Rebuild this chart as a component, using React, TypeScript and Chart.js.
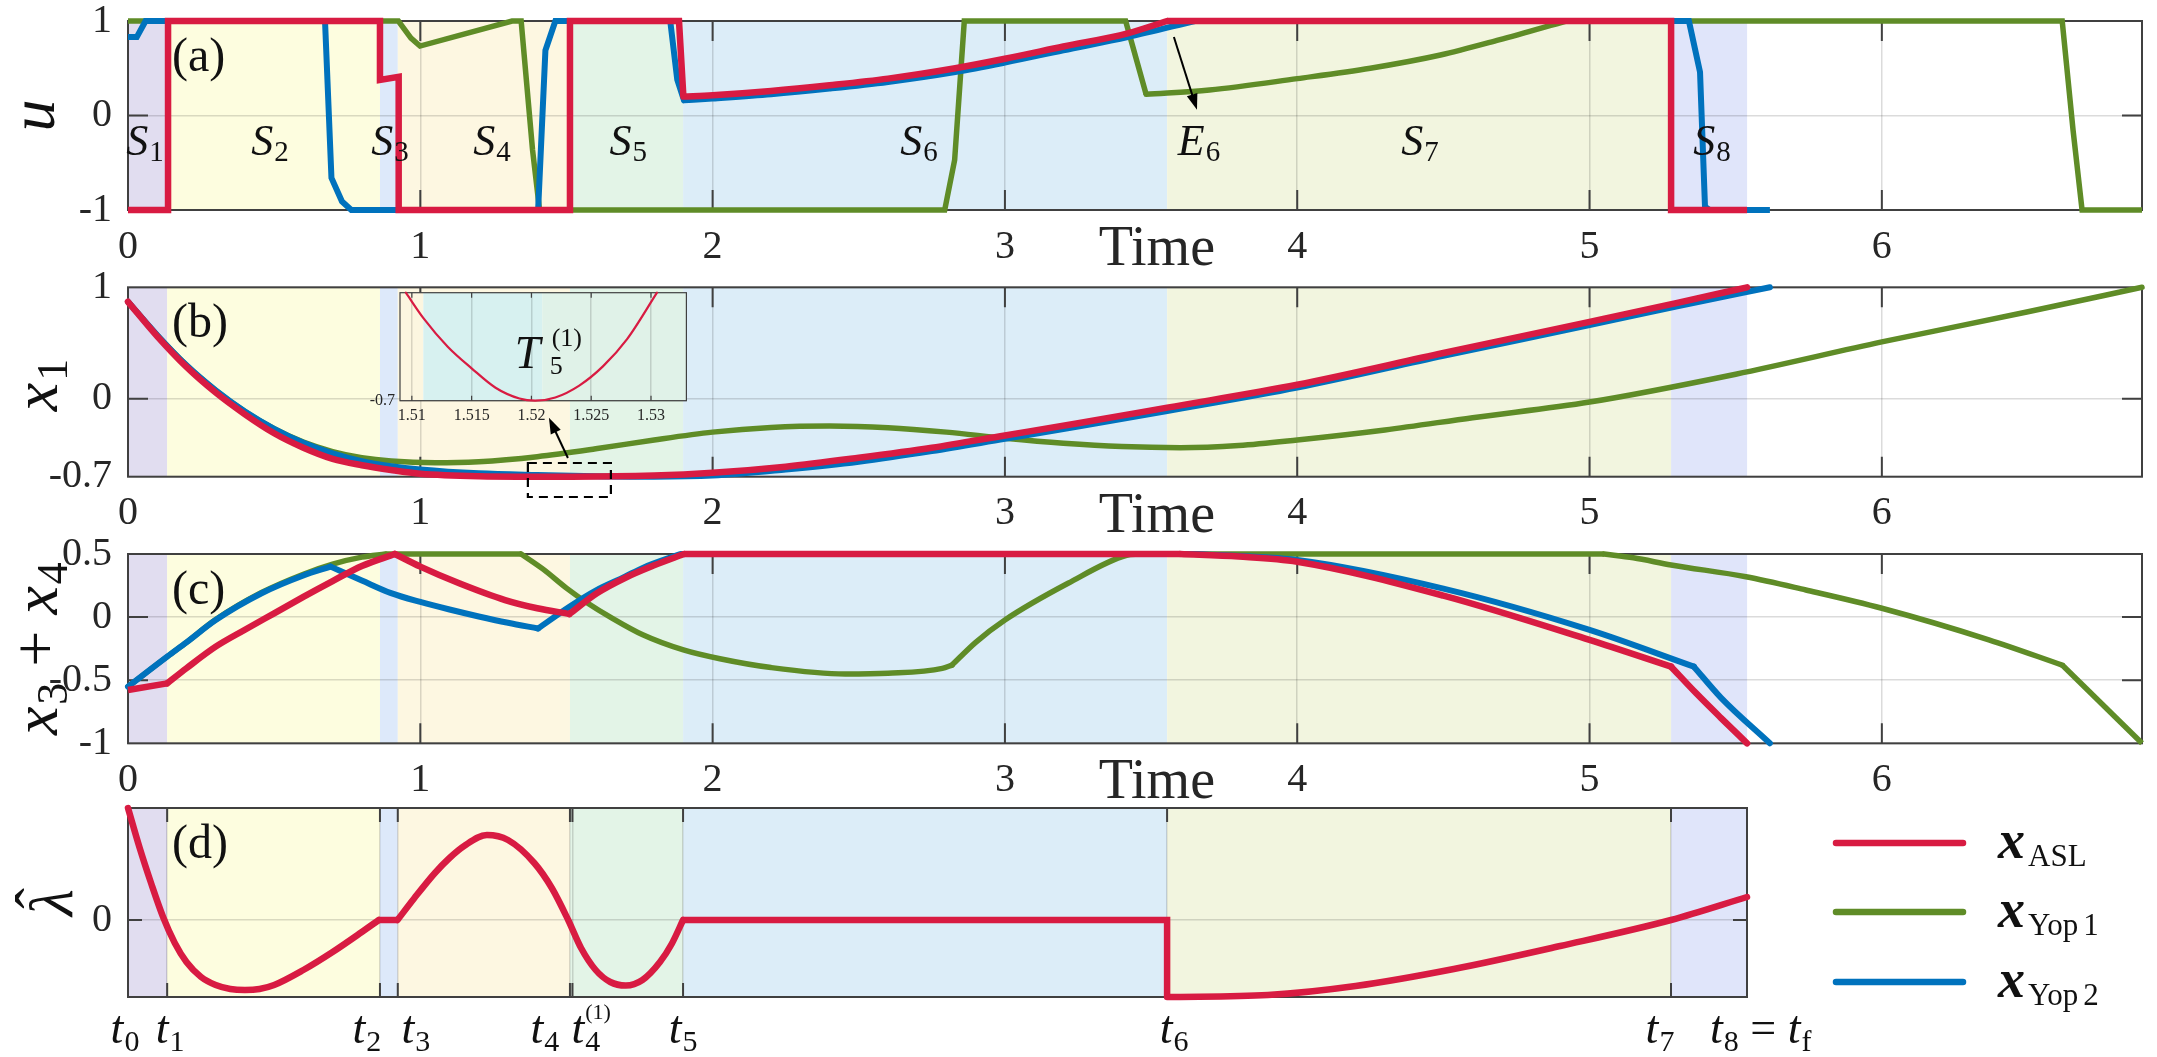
import { useEffect, useRef } from 'react';
import { Chart, registerables } from 'chart.js';

Chart.register(...registerables);

type Pt = [number, number];
type Range = [number, number];

const W = 2157;
const H = 1057;
const SERIF = "'Liberation Serif', 'Times New Roman', Times, serif";
const fnt = (size: number, style = '') => `${style} ${size}px ${SERIF}`.trim();

const RED = '#d81b42';
const GREEN = '#5f8c27';
const BLUE = '#0072bd';
const AXIS = '#404040';
const GRID = 'rgba(0,0,0,0.14)';
const TXT = '#262626';

// ---------------- stages ----------------
const stageBounds = [0, 0.134, 0.862, 0.923, 1.512, 1.899, 3.555, 5.279, 5.539];
const stageColors = ['#e1ddf0', '#fdfddf', '#dde9fa', '#fdf7e1', '#e3f4e7', '#dcedf8', '#f2f5df', '#e0e5fa'];
const stageLetters = ['S', 'S', 'S', 'S', 'S', 'S', 'E', 'S', 'S'];
const stageSubs = ['1', '2', '3', '4', '5', '6', '6', '7', '8'];
const stageLabelTimes = [0.058, 0.486, 0.896, 1.245, 1.711, 2.706, 3.664, 4.42, 5.419];

// ---------------- ticks ----------------
const timeTicks = [0, 1, 2, 3, 4, 5, 6];
const uTicks = [-1, 0, 1];
const x1Ticks = [-0.7, 0, 1];
const x34Ticks = [-1, -0.5, 0, 0.5];
const lamTicks = [0];
const tTicks = [0, 0.134, 0.862, 0.923, 1.512, 1.5205, 1.899, 3.555, 5.279, 5.539];
const tTickSubs = ['0', '1', '2', '3', '4', '4', '5', '6', '7', '8'];
const insetTicks = [1.51, 1.515, 1.52, 1.525, 1.53];
const insetYTicks = [-0.7];

// ---------------- (a) control u ----------------
const uASL: Pt[] = [[0, -1], [0.137, -1], [0.137, 1], [0.862, 1], [0.862, 0.376], [0.926, 0.41], [0.926, -1], [1.512, -1], [1.512, 1], [1.885, 1], [1.9, 0.2], [2.0, 0.215], [2.2, 0.26], [2.4, 0.32], [2.6, 0.39], [2.83, 0.5], [3.0, 0.6], [3.2, 0.73], [3.42, 0.87], [3.555, 1], [5.279, 1], [5.279, -1], [5.539, -1]];
const uASLCurves: Range[] = [[10, 19]];
const uYop1: Pt[] = [[0, 1], [0.925, 1], [0.968, 0.82], [0.999, 0.735], [1.314, 1], [1.345, 1], [1.384, -0.365], [1.408, -1], [2.794, -1], [2.828, -0.47], [2.861, 1], [3.413, 1], [3.483, 0.224], [3.7, 0.27], [4.0, 0.39], [4.25, 0.5], [4.49, 0.64], [4.69, 0.8], [4.92, 1], [6.617, 1], [6.654, -0.15], [6.685, -1], [6.89, -1]];
const uYop1Curves: Range[] = [[12, 18]];
const uYop2: Pt[] = [[0, 0.83], [0.03, 0.83], [0.06, 1], [0.674, 1], [0.696, -0.66], [0.732, -0.91], [0.764, -1], [1.403, -1], [1.428, 0.69], [1.462, 1], [1.855, 1], [1.879, 0.38], [1.902, 0.16], [2.0, 0.18], [2.2, 0.225], [2.4, 0.285], [2.6, 0.355], [2.83, 0.46], [3.0, 0.56], [3.2, 0.69], [3.42, 0.83], [3.65, 1], [5.34, 1], [5.378, 0.46], [5.395, -0.965], [5.41, -1], [5.617, -1]];
const uYop2Curves: Range[] = [[12, 21]];

// ---------------- (b) state x1 ----------------
const x1ASL: Pt[] = [[0, 0.87], [0.1, 0.56], [0.2, 0.285], [0.3, 0.055], [0.4, -0.14], [0.5, -0.31], [0.6, -0.44], [0.7, -0.54], [0.8, -0.597], [0.9, -0.64], [1.0, -0.674], [1.2, -0.695], [1.52, -0.7], [1.8, -0.69], [2.0, -0.665], [2.25, -0.61], [2.5, -0.53], [2.75, -0.44], [3.0, -0.33], [3.25, -0.22], [3.555, -0.08], [4.0, 0.125], [4.5, 0.41], [5.0, 0.69], [5.3, 0.86], [5.539, 1.0]];
const x1Yop1: Pt[] = [[0, 0.87], [0.1, 0.57], [0.2, 0.3], [0.3, 0.075], [0.4, -0.115], [0.5, -0.27], [0.6, -0.39], [0.7, -0.475], [0.8, -0.53], [0.9, -0.56], [1.05, -0.575], [1.2, -0.565], [1.4, -0.52], [1.6, -0.45], [1.8, -0.37], [2.0, -0.3], [2.2, -0.258], [2.4, -0.245], [2.6, -0.26], [2.8, -0.3], [3.0, -0.355], [3.2, -0.4], [3.4, -0.43], [3.6, -0.44], [3.8, -0.42], [4.0, -0.37], [4.3, -0.28], [4.6, -0.17], [5.0, -0.03], [5.5, 0.22], [6.0, 0.51], [6.5, 0.78], [6.89, 1.0]];
const x1Yop2: Pt[] = [[0, 0.87], [0.1, 0.57], [0.2, 0.3], [0.3, 0.075], [0.4, -0.115], [0.5, -0.27], [0.6, -0.395], [0.7, -0.49], [0.8, -0.56], [0.9, -0.605], [1.0, -0.635], [1.2, -0.67], [1.4, -0.685], [1.6, -0.695], [1.8, -0.7], [2.0, -0.69], [2.25, -0.635], [2.5, -0.565], [2.75, -0.47], [3.0, -0.36], [3.25, -0.25], [3.555, -0.11], [4.0, 0.1], [4.5, 0.385], [5.0, 0.66], [5.3, 0.83], [5.617, 1.0]];

// ---------------- (c) x3 + x4 ----------------
const x34ASL: Pt[] = [[0, -0.578], [0.134, -0.525], [0.2, -0.405], [0.3, -0.234], [0.4, -0.1], [0.5, 0.03], [0.6, 0.16], [0.7, 0.285], [0.8, 0.405], [0.913, 0.5], [1.0, 0.4], [1.133, 0.268], [1.29, 0.135], [1.4, 0.07], [1.51, 0.025], [1.604, 0.189], [1.7, 0.31], [1.8, 0.41], [1.902, 0.5], [3.6, 0.5], [3.8, 0.48], [4.0, 0.439], [4.5, 0.17], [5.0, -0.181], [5.279, -0.393], [5.365, -0.604], [5.45, -0.8], [5.539, -1.0]];
const x34ASLCurves: Range[] = [[1, 9], [9, 14], [14, 18], [19, 24], [24, 27]];
const x34Yop1: Pt[] = [[0, -0.551], [0.134, -0.313], [0.2, -0.2], [0.3, -0.02], [0.457, 0.195], [0.6, 0.34], [0.7, 0.42], [0.8, 0.475], [0.88, 0.5], [1.345, 0.5], [1.42, 0.38], [1.5, 0.23], [1.573, 0.11], [1.65, 0.0], [1.761, -0.14], [1.9, -0.26], [2.025, -0.33], [2.2, -0.4], [2.454, -0.451], [2.6, -0.445], [2.786, -0.406], [2.819, -0.38], [2.9, -0.2], [3.0, -0.023], [3.216, 0.268], [3.416, 0.49], [3.46, 0.5], [5.05, 0.5], [5.15, 0.47], [5.279, 0.413], [5.535, 0.32], [5.74, 0.215], [6.0, 0.07], [6.366, -0.18], [6.617, -0.38], [6.89, -1.0]];
const x34Yop1Curves: Range[] = [[0, 8], [9, 21], [21, 26], [27, 34]];
const x34Yop2: Pt[] = [[0, -0.551], [0.134, -0.313], [0.2, -0.2], [0.3, -0.023], [0.457, 0.189], [0.6, 0.33], [0.693, 0.4], [0.8, 0.29], [0.9, 0.19], [1.0, 0.12], [1.1, 0.06], [1.2, 0.005], [1.3, -0.045], [1.403, -0.09], [1.51, 0.082], [1.6, 0.21], [1.7, 0.32], [1.761, 0.39], [1.89, 0.5], [3.65, 0.5], [4.0, 0.452], [4.5, 0.225], [5.0, -0.102], [5.357, -0.393], [5.45, -0.64], [5.617, -1.0]];
const x34Yop2Curves: Range[] = [[0, 6], [6, 13], [13, 18], [19, 23], [23, 25]];

// ---------------- (d) lambda hat ----------------
const lamASL: Pt[] = [[0, 1.12], [0.04, 0.72], [0.08, 0.36], [0.12, 0.03], [0.16, -0.23], [0.2, -0.42], [0.25, -0.57], [0.3, -0.65], [0.35, -0.69], [0.4, -0.7], [0.45, -0.69], [0.5, -0.65], [0.6, -0.5], [0.7, -0.32], [0.8, -0.12], [0.858, 0], [0.922, 0], [0.98, 0.22], [1.05, 0.47], [1.1, 0.62], [1.15, 0.74], [1.228, 0.85], [1.3, 0.8], [1.39, 0.57], [1.45, 0.32], [1.506, 0], [1.55, -0.28], [1.6, -0.5], [1.65, -0.62], [1.703, -0.655], [1.76, -0.6], [1.82, -0.42], [1.86, -0.24], [1.899, 0], [3.555, 0], [3.555, -0.77], [3.9, -0.75], [4.2, -0.66], [4.536, -0.49], [4.9, -0.26], [5.279, 0], [5.539, 0.23]];
const lamASLCurves: Range[] = [[0, 15], [16, 33], [35, 41]];

// ---------------- inset (zoom of x1 near its minimum) ----------------
const insetT = [1.5095, 1.511, 1.513, 1.515, 1.517, 1.519, 1.5203, 1.522, 1.524, 1.526, 1.528, 1.5305];
const insetX1 = [-0.6999, -0.699924, -0.69995, -0.69997, -0.699988, -0.699998, -0.7, -0.699997, -0.699986, -0.699968, -0.699943, -0.6999];
const insetBounds = [1.50901, 1.51096, 1.5209, 1.53296];
const insetColors = ['#fcf6e0', '#d7f1f0', '#e0f2e8'];

// ---------------- helpers ----------------
type Series = { data: Pt[]; curves: Range[]; color: string; width: number; order: number };
type Spec = {
  key: string; left: number; right: number; top: number; bottom: number; xh: number;
  xMin: number; xMax: number; yMin: number; yMax: number;
  xTicks: number[]; yTicks: number[]; xLabels: boolean; tickFont: number; yPad: number; xPad: number;
  series: Series[]; tickLen: number; boxWidth: number;
  shade: (chart: any) => void;
  deco: (chart: any) => void;
};

type Part = { t: string; font: string; dy?: number; dx?: number };

function drawParts(ctx: CanvasRenderingContext2D, parts: Part[], x: number, y: number, align: 'left' | 'center' | 'right') {
  let total = 0;
  const ws = parts.map((p) => {
    ctx.font = p.font;
    const w = ctx.measureText(p.t).width;
    total += w + (p.dx || 0);
    return w;
  });
  let cx = align === 'left' ? x : align === 'center' ? x - total / 2 : x - total;
  ctx.textAlign = 'left';
  ctx.textBaseline = 'alphabetic';
  parts.forEach((p, i) => {
    cx += p.dx || 0;
    ctx.font = p.font;
    ctx.fillText(p.t, cx, y + (p.dy || 0));
    cx += ws[i];
  });
}

function drawRotated(ctx: CanvasRenderingContext2D, parts: Part[], baseX: number, centerY: number) {
  ctx.save();
  ctx.translate(baseX, centerY);
  ctx.rotate(-Math.PI / 2);
  drawParts(ctx, parts, 0, 0, 'center');
  ctx.restore();
}

function arrow(ctx: CanvasRenderingContext2D, x0: number, y0: number, x1: number, y1: number) {
  const a = Math.atan2(y1 - y0, x1 - x0);
  const head = 16, hw = 5.5;
  ctx.beginPath();
  ctx.moveTo(x0, y0);
  ctx.lineTo(x1 - Math.cos(a) * head * 0.8, y1 - Math.sin(a) * head * 0.8);
  ctx.stroke();
  ctx.beginPath();
  ctx.moveTo(x1, y1);
  ctx.lineTo(x1 - head * Math.cos(a) + hw * Math.sin(a), y1 - head * Math.sin(a) - hw * Math.cos(a));
  ctx.lineTo(x1 - head * Math.cos(a) - hw * Math.sin(a), y1 - head * Math.sin(a) + hw * Math.cos(a));
  ctx.closePath();
  ctx.fill();
}

function shadeStages(chart: any) {
  const { ctx, chartArea: ca } = chart;
  const xs = chart.scales.x;
  ctx.save();
  for (let i = 0; i < stageColors.length; i++) {
    const a = xs.getPixelForValue(stageBounds[i]);
    const b = xs.getPixelForValue(stageBounds[i + 1]);
    ctx.fillStyle = stageColors[i];
    ctx.fillRect(a, ca.top, b - a, ca.bottom - ca.top);
  }
  ctx.restore();
}

function shadeInset(chart: any) {
  const { ctx, chartArea: ca } = chart;
  const xs = chart.scales.x;
  ctx.save();
  ctx.fillStyle = '#ffffff';
  ctx.fillRect(ca.left, ca.top, ca.right - ca.left, ca.bottom - ca.top);
  for (let i = 0; i < insetColors.length; i++) {
    const a = xs.getPixelForValue(insetBounds[i]);
    const b = xs.getPixelForValue(insetBounds[i + 1]);
    ctx.fillStyle = insetColors[i];
    ctx.fillRect(a, ca.top, b - a, ca.bottom - ca.top);
  }
  ctx.restore();
}

function panelLetter(ctx: CanvasRenderingContext2D, ca: any, letter: string) {
  ctx.fillStyle = '#111';
  drawParts(ctx, [{ t: `(${letter})`, font: fnt(48) }], 172, ca.top + 50, 'left');
}

function timeLabel(ctx: CanvasRenderingContext2D, chart: any) {
  const xs = chart.scales.x;
  ctx.fillStyle = TXT;
  drawParts(ctx, [{ t: 'Time', font: fnt(56) }], xs.getPixelForValue(3.52), chart.chartArea.bottom + 55, 'center');
}

function decoA(chart: any) {
  const { ctx, chartArea: ca } = chart;
  const xs = chart.scales.x, ys = chart.scales.y;
  ctx.save();
  panelLetter(ctx, ca, 'a');
  ctx.fillStyle = '#111';
  drawRotated(ctx, [{ t: 'u', font: fnt(64, 'italic') }], 54, (ca.top + ca.bottom) / 2);
  timeLabel(ctx, chart);
  ctx.fillStyle = '#111';
  for (let i = 0; i < stageLetters.length; i++) {
    drawParts(ctx, [
      { t: stageLetters[i], font: fnt(44, 'italic') },
      { t: stageSubs[i], font: fnt(29), dy: 6, dx: 1 },
    ], xs.getPixelForValue(stageLabelTimes[i]), ca.top + 134, 'center');
  }
  ctx.strokeStyle = '#000';
  ctx.fillStyle = '#000';
  ctx.lineWidth = 2;
  arrow(ctx, xs.getPixelForValue(3.578), ys.getPixelForValue(0.83), xs.getPixelForValue(3.657), ys.getPixelForValue(0.06));
  ctx.restore();
}

function decoB(chart: any) {
  const { ctx, chartArea: ca } = chart;
  const xs = chart.scales.x, ys = chart.scales.y;
  ctx.save();
  panelLetter(ctx, ca, 'b');
  ctx.fillStyle = '#111';
  drawRotated(ctx, [
    { t: 'x', font: fnt(64, 'italic') },
    { t: '1', font: fnt(44), dy: 10, dx: 2 },
  ], 57, (ca.top + ca.bottom) / 2 + 3);
  timeLabel(ctx, chart);
  ctx.strokeStyle = '#000';
  ctx.lineWidth = 2.2;
  ctx.setLineDash([9, 6]);
  const bx0 = xs.getPixelForValue(1.368), bx1 = xs.getPixelForValue(1.652);
  const by0 = ys.getPixelForValue(-0.577), by1 = ys.getPixelForValue(-0.882);
  ctx.strokeRect(bx0, by0, bx1 - bx0, by1 - by0);
  ctx.setLineDash([]);
  ctx.fillStyle = '#000';
  ctx.lineWidth = 2;
  arrow(ctx, xs.getPixelForValue(1.505), ys.getPixelForValue(-0.532), xs.getPixelForValue(1.44), ys.getPixelForValue(-0.17));
  ctx.restore();
}

function decoC(chart: any) {
  const { ctx, chartArea: ca } = chart;
  ctx.save();
  panelLetter(ctx, ca, 'c');
  ctx.fillStyle = '#111';
  drawRotated(ctx, [
    { t: 'x', font: fnt(64, 'italic') },
    { t: '3', font: fnt(44), dy: 10, dx: 2 },
    { t: ' + ', font: fnt(64) },
    { t: 'x', font: fnt(64, 'italic') },
    { t: '4', font: fnt(44), dy: 10, dx: 2 },
  ], 57, (ca.top + ca.bottom) / 2);
  timeLabel(ctx, chart);
  ctx.restore();
}

const tLabelOffsets = [-3, 3, -13, 18, -25, 0, 0, 7, -11, 0];
const legendNames = [['ASL'], ['Yop', '1'], ['Yop', '2']];
const legendColors = [RED, GREEN, BLUE];

function decoD(chart: any) {
  const { ctx, chartArea: ca } = chart;
  const xs = chart.scales.x;
  ctx.save();
  panelLetter(ctx, ca, 'd');
  ctx.fillStyle = '#111';
  ctx.save();
  ctx.translate(72, (ca.top + ca.bottom) / 2);
  ctx.rotate(-Math.PI / 2);
  drawParts(ctx, [{ t: 'λ', font: fnt(62, 'italic') }], 0, 0, 'center');
  drawParts(ctx, [{ t: 'ˆ', font: fnt(62) }], 4, -14, 'center');
  ctx.restore();
  const base = ca.bottom + 46;
  for (let i = 0; i < tTicks.length; i++) {
    const px = xs.getPixelForValue(tTicks[i]);
    if (i === 5) {
      drawParts(ctx, [
        { t: 't', font: fnt(46, 'italic') },
        { t: '4', font: fnt(30), dy: 8, dx: 1 },
      ], px - 1, base, 'left');
      ctx.font = fnt(46, 'italic');
      const tw = ctx.measureText('t').width;
      drawParts(ctx, [{ t: '(1)', font: fnt(22) }], px - 1 + tw + 1, base - 24, 'left');
    } else if (i === tTicks.length - 1) {
      drawParts(ctx, [
        { t: 't', font: fnt(46, 'italic') },
        { t: '8', font: fnt(30), dy: 8, dx: 1 },
        { t: ' = ', font: fnt(46) },
        { t: 't', font: fnt(46, 'italic') },
        { t: 'f', font: fnt(30), dy: 8, dx: 1 },
      ], px - 37, base, 'left');
    } else {
      drawParts(ctx, [
        { t: 't', font: fnt(46, 'italic') },
        { t: tTickSubs[i], font: fnt(30), dy: 8, dx: 1 },
      ], px + tLabelOffsets[i], base, 'center');
    }
  }
  const ly = [843, 912, 982];
  for (let i = 0; i < 3; i++) {
    ctx.strokeStyle = legendColors[i];
    ctx.lineWidth = 6.5;
    ctx.lineCap = 'round';
    ctx.beginPath();
    ctx.moveTo(1836, ly[i]);
    ctx.lineTo(1963, ly[i]);
    ctx.stroke();
    ctx.fillStyle = '#111';
    const parts: Part[] = [{ t: 'x', font: fnt(54, 'bold italic') }];
    const nm = legendNames[i];
    parts.push({ t: nm[0], font: fnt(31), dy: 8, dx: 3 });
    if (nm[1]) parts.push({ t: nm[1], font: fnt(31), dy: 8, dx: 5 });
    drawParts(ctx, parts, 1998, ly[i] + 15, 'left');
  }
  ctx.restore();
}

function decoInset(chart: any) {
  const { ctx } = chart;
  const xs = chart.scales.x, ys = chart.scales.y;
  ctx.save();
  ctx.fillStyle = '#111';
  const tx = xs.getPixelForValue(1.5186);
  const ty = ys.getPixelForValue(-0.69997);
  drawParts(ctx, [{ t: 'T', font: fnt(46, 'italic') }], tx, ty, 'left');
  drawParts(ctx, [{ t: '5', font: fnt(26) }], tx + 35, ty + 6, 'left');
  drawParts(ctx, [{ t: '(1)', font: fnt(26) }], tx + 37, ty - 22, 'left');
  ctx.restore();
}

function boxTicks(chart: any, s: Spec) {
  const { ctx, chartArea: ca } = chart;
  const xs = chart.scales.x, ys = chart.scales.y;
  ctx.save();
  ctx.strokeStyle = AXIS;
  ctx.lineWidth = s.boxWidth;
  ctx.beginPath();
  s.xTicks.forEach((v) => {
    const px = xs.getPixelForValue(v);
    if (px <= ca.left + 1 || px >= ca.right - 1) return;
    ctx.moveTo(px, ca.bottom); ctx.lineTo(px, ca.bottom - s.tickLen);
    ctx.moveTo(px, ca.top); ctx.lineTo(px, ca.top + s.tickLen);
  });
  s.yTicks.forEach((v) => {
    const py = ys.getPixelForValue(v);
    if (py <= ca.top + 1 || py >= ca.bottom - 1) return;
    ctx.moveTo(ca.left, py); ctx.lineTo(ca.left + s.tickLen, py);
    ctx.moveTo(ca.right, py); ctx.lineTo(ca.right - s.tickLen, py);
  });
  ctx.stroke();
  ctx.strokeRect(ca.left, ca.top, ca.right - ca.left, ca.bottom - ca.top);
  ctx.restore();
}

// split a series into straight polyline runs and smooth (monotone) curve runs
function toRuns(pts: Pt[], curves: Range[]) {
  const runs: { pts: Pt[]; smooth: boolean }[] = [];
  let pos = 0;
  curves.forEach(([a, b]) => {
    if (a > pos) runs.push({ pts: pts.slice(pos, a + 1), smooth: false });
    runs.push({ pts: pts.slice(a, b + 1), smooth: true });
    pos = b;
  });
  if (pos < pts.length - 1) runs.push({ pts: pts.slice(pos), smooth: false });
  return runs;
}

function makeChart(canvas: HTMLCanvasElement, s: Spec) {
  const plugin = {
    id: 'deco_' + s.key,
    beforeDraw(chart: any) { s.shade(chart); },
    beforeDatasetsDraw(chart: any) { boxTicks(chart, s); },
    afterDraw(chart: any) { s.deco(chart); },
  };
  const tickFont = { family: SERIF, size: s.tickFont, lineHeight: 1.2 };
  const datasets: any[] = [];
  s.series.forEach((se) => {
    toRuns(se.data, se.curves).forEach((run) => {
      datasets.push({
        data: run.pts.map(([x, y]) => ({ x, y })),
        borderColor: se.color,
        borderWidth: se.width,
        pointRadius: 0,
        pointHoverRadius: 0,
        fill: false,
        tension: 0,
        cubicInterpolationMode: run.smooth ? 'monotone' : 'default',
        clip: false,
        order: se.order,
        borderJoinStyle: 'miter',
        borderCapStyle: run.smooth ? 'round' : 'butt',
      });
    });
  });
  return new Chart(canvas, {
    type: 'line',
    data: { datasets } as any,
    options: {
      animation: false,
      responsive: false,
      maintainAspectRatio: false,
      devicePixelRatio: 1,
      events: [],
      layout: { padding: { left: 0, top: s.top, right: W - s.right, bottom: H - s.bottom - s.xh } },
      plugins: { legend: { display: false }, tooltip: { enabled: false } },
      scales: {
        x: {
          type: 'linear',
          min: s.xMin,
          max: s.xMax,
          afterBuildTicks: (ax: any) => { ax.ticks = s.xTicks.map((v) => ({ value: v })); },
          afterFit: (ax: any) => { ax.height = s.xh; ax.paddingLeft = 0; ax.paddingRight = 0; },
          grid: { color: GRID, lineWidth: 1.5, drawTicks: false },
          border: { display: false },
          ticks: {
            display: s.xLabels,
            autoSkip: false,
            maxRotation: 0,
            padding: s.xPad,
            color: TXT,
            font: tickFont,
            callback: (v: any) => String(v),
          },
        },
        y: {
          type: 'linear',
          min: s.yMin,
          max: s.yMax,
          afterBuildTicks: (ax: any) => { ax.ticks = s.yTicks.map((v) => ({ value: v })); },
          afterFit: (ax: any) => { ax.width = s.left; ax.paddingTop = 0; ax.paddingBottom = 0; },
          grid: { color: GRID, lineWidth: 1.5, drawTicks: false },
          border: { display: false },
          ticks: {
            autoSkip: false,
            padding: s.yPad,
            color: TXT,
            font: tickFont,
            callback: (v: any) => String(v),
          },
        },
      },
    } as any,
    plugins: [plugin],
  });
}

const whole = (d: Pt[]): Range[] => [[0, d.length - 1]];
const lines = (red: Pt[], redC: Range[], green: Pt[] | null, greenC: Range[], blue: Pt[] | null, blueC: Range[]): Series[] => {
  const out: Series[] = [{ data: red, curves: redC, color: RED, width: 6.5, order: 0 }];
  if (blue) out.push({ data: blue, curves: blueC, color: BLUE, width: 6, order: 1 });
  if (green) out.push({ data: green, curves: greenC, color: GREEN, width: 5.5, order: 2 });
  return out;
};

const MAIN = { left: 128, xh: 56, xMin: 0, tickFont: 40, yPad: 16, xPad: 13, tickLen: 20, boxWidth: 2, shade: shadeStages };
const insetPts: Pt[] = insetT.map((t, i) => [t, insetX1[i]] as Pt);

const specs: Spec[] = [
  { ...MAIN, key: 'a', right: 2142, top: 21, bottom: 210, xMax: 6.89, yMin: -1, yMax: 1, xTicks: timeTicks, yTicks: uTicks, xLabels: true, series: lines(uASL, uASLCurves, uYop1, uYop1Curves, uYop2, uYop2Curves), deco: decoA },
  { ...MAIN, key: 'b', right: 2142, top: 287.3, bottom: 476.7, xMax: 6.89, yMin: -0.7, yMax: 1, xTicks: timeTicks, yTicks: x1Ticks, xLabels: true, series: lines(x1ASL, whole(x1ASL), x1Yop1, whole(x1Yop1), x1Yop2, whole(x1Yop2)), deco: decoB },
  { ...MAIN, key: 'c', right: 2142, top: 554, bottom: 743.3, xMax: 6.89, yMin: -1, yMax: 0.5, xTicks: timeTicks, yTicks: x34Ticks, xLabels: true, series: lines(x34ASL, x34ASLCurves, x34Yop1, x34Yop1Curves, x34Yop2, x34Yop2Curves), deco: decoC },
  { ...MAIN, key: 'd', right: 1747, top: 808, bottom: 997, xh: 50, xMax: 5.539, yMin: -0.77, yMax: 1.12, xTicks: tTicks, yTicks: lamTicks, xLabels: false, tickLen: 14, series: lines(lamASL, lamASLCurves, null, [], null, []), deco: decoD },
  {
    key: 'inset', left: 400, right: 686.4, top: 292.7, bottom: 400.7, xh: 40, xMin: 1.50901, xMax: 1.53296, yMin: -0.7, yMax: -0.6999,
    xTicks: insetTicks, yTicks: insetYTicks, xLabels: true, tickFont: 16, yPad: 5, xPad: 5, tickLen: 5, boxWidth: 1.2,
    series: [{ data: insetPts, curves: whole(insetPts), color: RED, width: 2.2, order: 0 }],
    shade: shadeInset, deco: decoInset,
  },
];

export default function App() {
  const canvRefs = useRef<(HTMLCanvasElement | null)[]>([]);
  useEffect(() => {
    const charts = specs.map((s, i) => makeChart(canvRefs.current[i] as HTMLCanvasElement, s));
    return () => charts.forEach((c) => c.destroy());
  }, []);
  return (
    <div style={{ position: 'fixed', left: 0, top: 0, width: W, height: H, background: '#ffffff', overflow: 'hidden' }}>
      {specs.map((s, i) => (
        <canvas
          key={s.key}
          ref={(el) => { canvRefs.current[i] = el; }}
          width={W}
          height={H}
          style={{ position: 'absolute', left: 0, top: 0, width: W, height: H }}
        />
      ))}
    </div>
  );
}
